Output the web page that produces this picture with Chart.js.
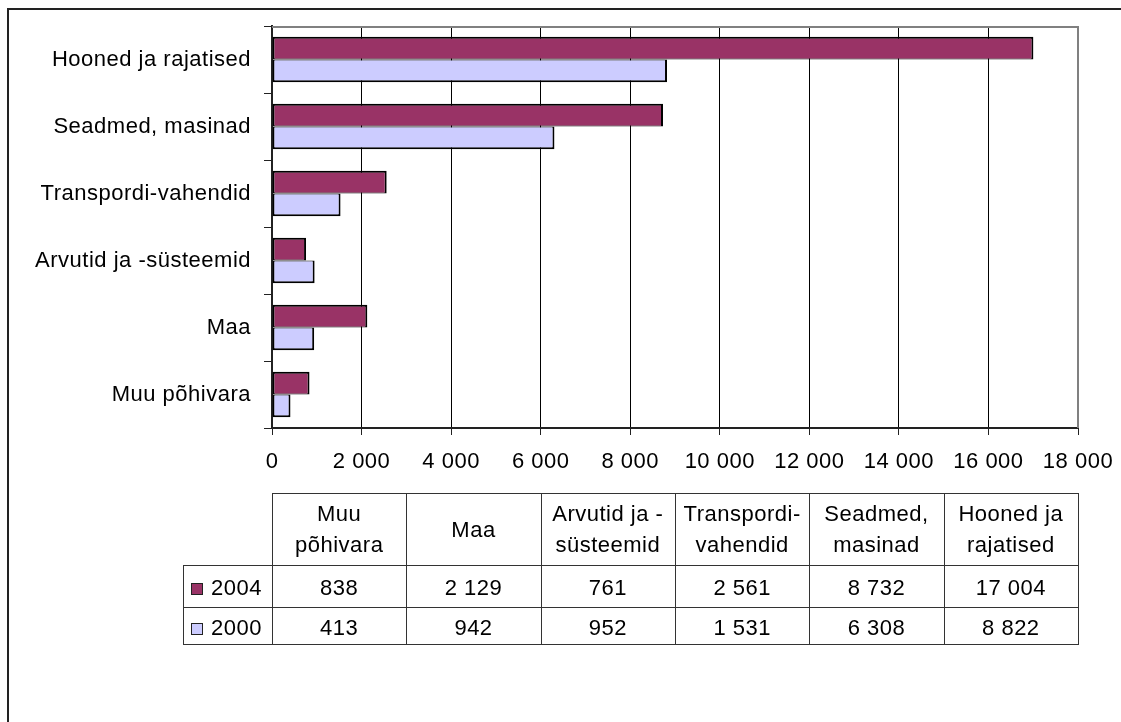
<!DOCTYPE html>
<html>
<head>
<meta charset="utf-8">
<script src="https://cdn.jsdelivr.net/npm/chart.js@4/dist/chart.umd.min.js"></script>
<style>
  html, body { margin: 0; padding: 0; background: #fff; }
  #wrap { width: 1121px; height: 722px; position: relative; }
</style>
</head>
<body>
<div id="wrap"><canvas id="c" width="1121" height="722"></canvas></div>
<script>
// Fixed assets by type (thousands), table order = bottom-to-top on the chart
const categories = ['Muu põhivara', 'Maa', 'Arvutid ja -süsteemid', 'Transpordi-vahendid', 'Seadmed, masinad', 'Hooned ja rajatised'];
const headerLines = [['Muu', 'põhivara'], ['Maa'], ['Arvutid ja -', 'süsteemid'], ['Transpordi-', 'vahendid'], ['Seadmed,', 'masinad'], ['Hooned ja', 'rajatised']];
const seriesNames = ['2004', '2000'];
const values2004 = [838, 2129, 761, 2561, 8732, 17004];
const values2000 = [413, 942, 952, 1531, 6308, 8822];
const xTicks = [0, 2000, 4000, 6000, 8000, 10000, 12000, 14000, 16000, 18000];

const COLORS = ['#993366', '#CCCCFF'];
const FONT_FAMILY = '"Liberation Sans", Arial, Helvetica, sans-serif';
const FONT_SIZE = 22;
const SPACING = '0.5px';

const fmt = n => String(n).replace(/\B(?=(\d{3})+(?!\d))/g, ' ');

// letter spacing applied to every text drawn on the canvas
const spacingPlugin = {
  id: 'spacing',
  beforeUpdate(chart) { chart.ctx.letterSpacing = SPACING; },
  beforeDraw(chart) { chart.ctx.letterSpacing = SPACING; }
};

// outer frame and plot area border
const framePlugin = {
  id: 'frame',
  beforeDraw(chart) {
    const ctx = chart.ctx;
    ctx.save();
    ctx.fillStyle = '#fff';
    ctx.fillRect(0, 0, chart.width, chart.height);
    ctx.strokeStyle = '#222';
    ctx.lineWidth = 2;
    ctx.beginPath();
    ctx.moveTo(8, chart.height);
    ctx.lineTo(8, 9);
    ctx.lineTo(chart.width, 9);
    ctx.stroke();
    ctx.restore();
  },
  beforeDatasetsDraw(chart) {
    const ctx = chart.ctx, ca = chart.chartArea;
    ctx.save();
    ctx.strokeStyle = '#808080';
    ctx.lineWidth = 2;
    ctx.beginPath();
    ctx.moveTo(ca.left, ca.top + 1);
    ctx.lineTo(ca.right + 1, ca.top + 1);
    ctx.moveTo(ca.right, ca.top);
    ctx.lineTo(ca.right, ca.bottom);
    ctx.stroke();
    ctx.restore();
  }
};

// data table under the chart
const tablePlugin = {
  id: 'dataTable',
  afterDraw(chart) {
    const ctx = chart.ctx, ca = chart.chartArea;
    const n = categories.length;
    const colW = (ca.right - ca.left) / n;
    const tTop = 493, hdrBot = 565, r1Bot = 607, r2Bot = 644, legLeft = 183;
    ctx.save();
    ctx.letterSpacing = SPACING;
    ctx.strokeStyle = '#333';
    ctx.lineWidth = 1;
    ctx.beginPath();
    const hl = (y, x0, x1) => { ctx.moveTo(x0, y + 0.5); ctx.lineTo(x1, y + 0.5); };
    const vl = (x, y0, y1) => { ctx.moveTo(Math.round(x) + 0.5, y0); ctx.lineTo(Math.round(x) + 0.5, y1); };
    hl(tTop, ca.left, ca.right + 1);
    hl(hdrBot, legLeft, ca.right + 1);
    hl(r1Bot, legLeft, ca.right + 1);
    hl(r2Bot, legLeft, ca.right + 1);
    vl(legLeft, hdrBot, r2Bot + 1);
    for (let i = 0; i <= n; i++) vl(ca.left + i * colW, tTop, r2Bot + 1);
    ctx.stroke();

    ctx.fillStyle = '#000';
    ctx.font = FONT_SIZE + 'px ' + FONT_FAMILY;
    ctx.textAlign = 'center';
    ctx.textBaseline = 'alphabetic';
    headerLines.forEach((lines, i) => {
      const cx = ca.left + (i + 0.5) * colW;
      if (lines.length === 1) {
        ctx.fillText(lines[0], cx, 537);
      } else {
        ctx.fillText(lines[0], cx, 520.5);
        ctx.fillText(lines[1], cx, 551.5);
      }
    });
    const rows = [values2004, values2000];
    const baselines = [594.5, 634.5];
    rows.forEach((vals, r) => {
      vals.forEach((v, i) => {
        ctx.fillText(fmt(v), ca.left + (i + 0.5) * colW, baselines[r]);
      });
      // legend key
      const sy = Math.round(baselines[r] - 12);
      ctx.fillStyle = COLORS[r];
      ctx.fillRect(191, sy, 12, 12);
      ctx.strokeStyle = '#222';
      ctx.strokeRect(191.5, sy + 0.5, 11, 11);
      ctx.fillStyle = '#000';
      ctx.textAlign = 'left';
      ctx.fillText(seriesNames[r], 211, baselines[r]);
      ctx.textAlign = 'center';
    });
    ctx.restore();
  }
};

const font = { family: FONT_FAMILY, size: FONT_SIZE };

new Chart(document.getElementById('c'), {
  type: 'bar',
  data: {
    labels: categories,
    datasets: [
      {
        label: seriesNames[0], data: values2004,
        backgroundColor: COLORS[0], borderColor: '#000',
        borderWidth: { top: 2, right: 2, bottom: 1, left: 2 }, borderSkipped: false,
        categoryPercentage: 0.68, barPercentage: 1
      },
      {
        label: seriesNames[1], data: values2000,
        backgroundColor: COLORS[1], borderColor: '#000',
        borderWidth: { top: 1, right: 2, bottom: 2, left: 2 }, borderSkipped: false,
        categoryPercentage: 0.68, barPercentage: 1
      }
    ]
  },
  options: {
    indexAxis: 'y',
    responsive: false,
    animation: false,
    devicePixelRatio: 1,
    layout: { padding: { top: 26, right: 43, left: 0, bottom: 234 } },
    plugins: { legend: { display: false }, tooltip: { enabled: false } },
    scales: {
      x: {
        type: 'linear', min: 0, max: 18000,
        afterBuildTicks: s => { s.ticks = xTicks.map(v => ({ value: v })); },
        afterFit: s => { s.height = 60; s.paddingLeft = 0; s.paddingRight = 0; },
        grid: {
          color: c => (c.tick && c.tick.value === 18000) ? 'rgba(0,0,0,0)' : '#000',
          tickColor: '#222', lineWidth: 1, tickLength: 7
        },
        border: { display: true, color: '#222', width: 2 },
        ticks: { font, color: '#000', padding: 14, maxRotation: 0, autoSkip: false, callback: v => fmt(v) }
      },
      y: {
        reverse: true,
        afterFit: s => { s.width = 272; s.paddingTop = 0; s.paddingBottom = 0; },
        grid: { drawOnChartArea: false, offset: true, tickLength: 8, tickColor: '#222', color: '#222' },
        border: { display: true, color: '#222', width: 2 },
        ticks: { font, color: '#000', padding: 13 }
      }
    }
  },
  plugins: [spacingPlugin, framePlugin, tablePlugin]
});
</script>
</body>
</html>
